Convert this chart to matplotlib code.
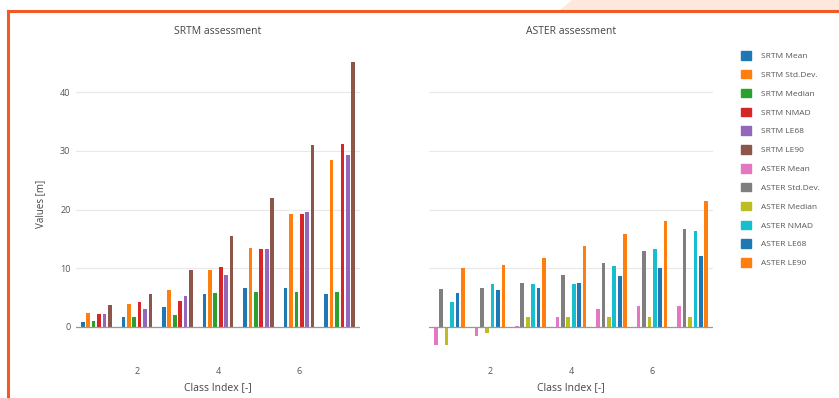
import matplotlib
matplotlib.use("Agg")
import matplotlib.pyplot as plt
from matplotlib.patches import Polygon, Rectangle
from matplotlib.lines import Line2D
import numpy as np

plt.rcParams['font.family'] = ['Open Sans', 'DejaVu Sans']

classes = [1, 2, 3, 4, 5, 6, 7]
x_ticks = [2, 4, 6]

srtm_names = ["SRTM Mean", "SRTM Std.Dev.", "SRTM Median", "SRTM NMAD", "SRTM LE68", "SRTM LE90"]
srtm_mean   = [0.85, 1.6, 3.4, 5.6, 6.7, 6.7, 5.6]
srtm_std    = [2.4, 3.8, 6.3, 9.7, 13.5, 19.3, 28.4]
srtm_median = [1.0, 1.7, 2.0, 5.8, 6.0, 6.0, 5.9]
srtm_nmad   = [2.2, 4.3, 4.4, 10.2, 13.3, 19.3, 31.2]
srtm_le68   = [2.2, 3.0, 5.3, 8.8, 13.3, 19.5, 29.3]
srtm_le90   = [3.7, 5.6, 9.7, 15.5, 22.0, 31.1, 45.2]

aster_names = ["ASTER Mean", "ASTER Std.Dev.", "ASTER Median", "ASTER NMAD", "ASTER LE68", "ASTER LE90"]
aster_mean   = [-3.1, -1.5, 0.2, 1.7, 3.0, 3.6, 3.6]
aster_std    = [6.4, 6.7, 7.5, 8.8, 10.8, 13.0, 16.7]
aster_median = [-3.1, -1.0, 1.7, 1.7, 1.7, 1.7, 1.7]
aster_nmad   = [4.3, 7.3, 7.3, 7.3, 10.4, 13.2, 16.3]
aster_le68   = [5.8, 6.3, 6.7, 7.5, 8.7, 10.0, 12.1]
aster_le90   = [10.1, 10.6, 11.8, 13.7, 15.8, 18.0, 21.5]

srtm_series = [srtm_mean, srtm_std, srtm_median, srtm_nmad, srtm_le68, srtm_le90]
aster_series = [aster_mean, aster_std, aster_median, aster_nmad, aster_le68, aster_le90]

srtm_colors = ["#1f77b4", "#ff7f0e", "#2ca02c", "#d62728", "#9467bd", "#8c564b"]
aster_colors = ["#e377c2", "#7f7f7f", "#bcbd22", "#17becf", "#1f77b4", "#ff7f0e"]

W, H = 839, 398
fig = plt.figure(figsize=(W / 100, H / 100), dpi=100)
fig.patch.set_facecolor("white")

def axrect(x0, x1, ytop, ybot):
    return [x0 / W, 1 - ybot / H, (x1 - x0) / W, (ybot - ytop) / H]

ylim = (-5.5, 47.6)
ax1 = fig.add_axes(axrect(76, 360, 47.8, 359))
ax2 = fig.add_axes(axrect(429, 713, 47.8, 359))

slot = 0.8 / 6
bw = 0.09
grid_col = "#e8e8e8"
tick_col = "#555555"

for ax, series, colors, title in [(ax1, srtm_series, srtm_colors, "SRTM assessment"),
                                  (ax2, aster_series, aster_colors, "ASTER assessment")]:
    cx = np.array(classes, dtype=float)
    for i, (vals, c) in enumerate(zip(series, colors)):
        ax.bar(cx - 0.4 + slot * (i + 0.5), vals, width=bw, color=c, zorder=3)
    ax.set_xlim(0.5, 7.5)
    ax.set_ylim(*ylim)
    for s in ax.spines.values():
        s.set_visible(False)
    ax.set_yticks([0, 10, 20, 30, 40])
    ax.yaxis.grid(True, color=grid_col, linewidth=0.8, zorder=0)
    ax.axhline(0, color="#999999", linewidth=0.9, zorder=4)
    ax.set_xticks(x_ticks)
    ax.set_xticklabels([str(t) for t in x_ticks])
    ax.tick_params(axis="both", length=0, labelsize=6.5, labelcolor=tick_col)
    ax.tick_params(axis="x", pad=5.5)
    ax.set_xlabel("Class Index [-]", fontsize=7.5, color="#444444", labelpad=4.5)
    ax.set_title(title, fontsize=7.5, color="#444444", pad=10)
    ax.set_facecolor("white")

ax1.tick_params(axis="y", pad=4)
ax1.set_ylabel("Values [m]", fontsize=7, color="#444444", labelpad=10)
ax2.set_yticklabels([])

# legend
names = srtm_names + aster_names
cols = srtm_colors + aster_colors
handles = [Rectangle((0, 0), 1, 1, color=c) for c in cols]
leg = fig.legend(handles, names, loc="upper left", bbox_to_anchor=(741 / W, 1 - 51 / H),
                 frameon=False, fontsize=6, handlelength=1.2, handleheight=1.2,
                 labelspacing=1.17, handletextpad=1.2, borderaxespad=0, borderpad=0)
for t in leg.get_texts():
    t.set_color("#555555")

# decorative border and fade
fig.add_artist(Polygon([(572 / W, 1.0), (1.0, 1.0), (1.0, 1 - 10 / H), (560 / W, 1 - 10 / H)],
                       closed=True, transform=fig.transFigure, facecolor="#fde8db",
                       edgecolor="none", zorder=0))
fig.add_artist(Line2D([8 / W, 8 / W], [0, 1 - 11 / H], transform=fig.transFigure,
                      color="#f15a24", linewidth=2.2, solid_capstyle="projecting"))
fig.add_artist(Line2D([8 / W, 1.0], [1 - 11 / H, 1 - 11 / H], transform=fig.transFigure,
                      color="#f15a24", linewidth=2.2, solid_capstyle="projecting"))

fig.savefig("out.png", dpi=100)
